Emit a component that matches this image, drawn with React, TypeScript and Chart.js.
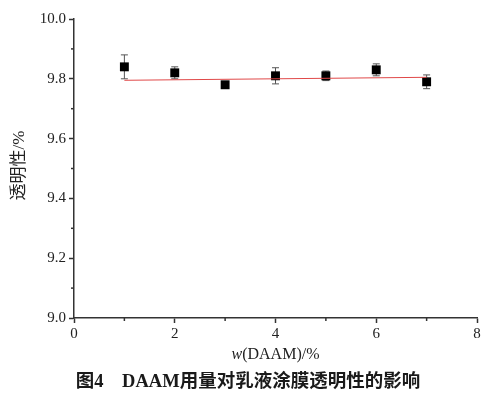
import React, { useEffect, useRef } from "react";
import { Chart, registerables } from "chart.js";

Chart.register(...registerables);

const xValues = [1, 2, 3, 4, 5, 6, 7];
const yValues = [9.84, 9.82, 9.78, 9.81, 9.81, 9.83, 9.79];
const yErrors = [0.04, 0.02, 0.005, 0.027, 0.016, 0.02, 0.023];
const fitX = [1, 7];
const fitY = [9.795, 9.805];
const xTicks = [0, 2, 4, 6, 8];
const yTicks = [9.0, 9.2, 9.4, 9.6, 9.8, 10.0];

const AXIS = "#333333";

const decorPlugin = {
  id: "decor",
  beforeDatasetsDraw(chart: any) {
    const ctx = chart.ctx;
    const xs = chart.scales.x;
    const ys = chart.scales.y;
    ctx.save();
    ctx.strokeStyle = "#555555";
    ctx.lineWidth = 1;
    xValues.forEach((xv, i) => {
      const px = xs.getPixelForValue(xv);
      const top = ys.getPixelForValue(yValues[i] + yErrors[i]);
      const bot = ys.getPixelForValue(yValues[i] - yErrors[i]);
      ctx.beginPath();
      ctx.moveTo(px, top);
      ctx.lineTo(px, bot);
      ctx.moveTo(px - 3.5, top);
      ctx.lineTo(px + 3.5, top);
      ctx.moveTo(px - 3.5, bot);
      ctx.lineTo(px + 3.5, bot);
      ctx.stroke();
    });
    ctx.restore();
  },
  afterDraw(chart: any) {
    const ctx = chart.ctx;
    const xs = chart.scales.x;
    const ys = chart.scales.y;
    const area = chart.chartArea;
    ctx.save();
    // minor ticks
    ctx.strokeStyle = AXIS;
    ctx.lineWidth = 1.5;
    for (let i = 0; i < xTicks.length - 1; i++) {
      const px = xs.getPixelForValue((xTicks[i] + xTicks[i + 1]) / 2);
      ctx.beginPath();
      ctx.moveTo(px, area.bottom);
      ctx.lineTo(px, area.bottom + 3);
      ctx.stroke();
    }
    for (let i = 0; i < yTicks.length - 1; i++) {
      const py = ys.getPixelForValue((yTicks[i] + yTicks[i + 1]) / 2);
      ctx.beginPath();
      ctx.moveTo(area.left, py);
      ctx.lineTo(area.left - 3, py);
      ctx.stroke();
    }
    // x title
    ctx.fillStyle = "#222222";
    ctx.textBaseline = "middle";
    const italicFont = "italic 16px 'Liberation Serif'";
    const normalFont = "16px 'Liberation Serif'";
    ctx.font = italicFont;
    const wW = ctx.measureText("w").width;
    ctx.font = normalFont;
    const restW = ctx.measureText("(DAAM)/%").width;
    const cx = (area.left + area.right) / 2;
    let sx = cx - (wW + restW) / 2;
    ctx.textAlign = "left";
    ctx.font = italicFont;
    ctx.fillText("w", sx, 355);
    ctx.font = normalFont;
    ctx.fillText("(DAAM)/%", sx + wW, 355);
    // y title
    ctx.save();
    ctx.translate(20, (area.top + area.bottom) / 2 - 3);
    ctx.rotate(-Math.PI / 2);
    ctx.textAlign = "center";
    ctx.font = "17px 'Liberation Serif', 'Noto Sans CJK SC'";
    ctx.fillText("透明性/%", 0, 0);
    ctx.restore();
    // caption
    ctx.textAlign = "center";
    ctx.fillStyle = "#1a1a1a";
    ctx.font = "bold 18.5px 'Liberation Serif', 'Noto Sans CJK SC'";
    ctx.fillText("图4\u3000DAAM用量对乳液涂膜透明性的影响", 248, 382);
    ctx.restore();
  },
};

export default function App() {
  const ref = useRef<HTMLCanvasElement>(null);
  useEffect(() => {
    if (!ref.current) return;
    const chart = new Chart(ref.current, {
      type: "scatter",
      data: {
        datasets: [
          {
            type: "line",
            data: fitX.map((x, i) => ({ x, y: fitY[i] })),
            borderColor: "#e04848",
            borderWidth: 1,
            pointRadius: 0,
            fill: false,
          } as any,
          {
            type: "scatter",
            data: xValues.map((x, i) => ({ x, y: yValues[i] })),
            pointStyle: "rect",
            pointRadius: 6.3,
            backgroundColor: "#000000",
            borderColor: "#000000",
            borderWidth: 0,
          },
        ],
      },
      options: {
        responsive: false,
        animation: false,
        layout: { padding: { left: 0, right: 8, top: 19, bottom: 0 } },
        plugins: { legend: { display: false }, tooltip: { enabled: false } },
        scales: {
          x: {
            type: "linear",
            min: 0,
            max: 8,
            afterBuildTicks: (s: any) => {
              s.ticks = xTicks.map((v) => ({ value: v }));
            },
            afterFit: (s: any) => {
              s.height = 77;
            },
            grid: {
              drawOnChartArea: false,
              drawTicks: true,
              tickLength: 5,
              tickColor: AXIS,
              tickWidth: 1.5,
            },
            border: { color: AXIS, width: 1.5 },
            ticks: {
              color: "#222222",
              padding: 2,
              maxRotation: 0,
              font: { family: "'Liberation Serif'", size: 15 },
              callback: (v: any) => String(v),
            },
          },
          y: {
            type: "linear",
            min: 9.0,
            max: 10.0,
            afterBuildTicks: (s: any) => {
              s.ticks = yTicks.map((v) => ({ value: v }));
            },
            afterFit: (s: any) => {
              s.width = 74;
            },
            grid: {
              drawOnChartArea: false,
              drawTicks: true,
              tickLength: 5,
              tickColor: AXIS,
              tickWidth: 1.5,
            },
            border: { color: AXIS, width: 1.5 },
            ticks: {
              color: "#222222",
              padding: 3,
              font: { family: "'Liberation Serif'", size: 15 },
              callback: (v: any) => Number(v).toFixed(1),
            },
          },
        },
      },
      plugins: [decorPlugin],
    });
    return () => chart.destroy();
  }, []);
  return (
    <div style={{ position: "fixed", left: 0, top: 0, width: 485, height: 395, background: "#fff" }}>
      <canvas ref={ref} width={485} height={395} style={{ display: "block" }} />
    </div>
  );
}
